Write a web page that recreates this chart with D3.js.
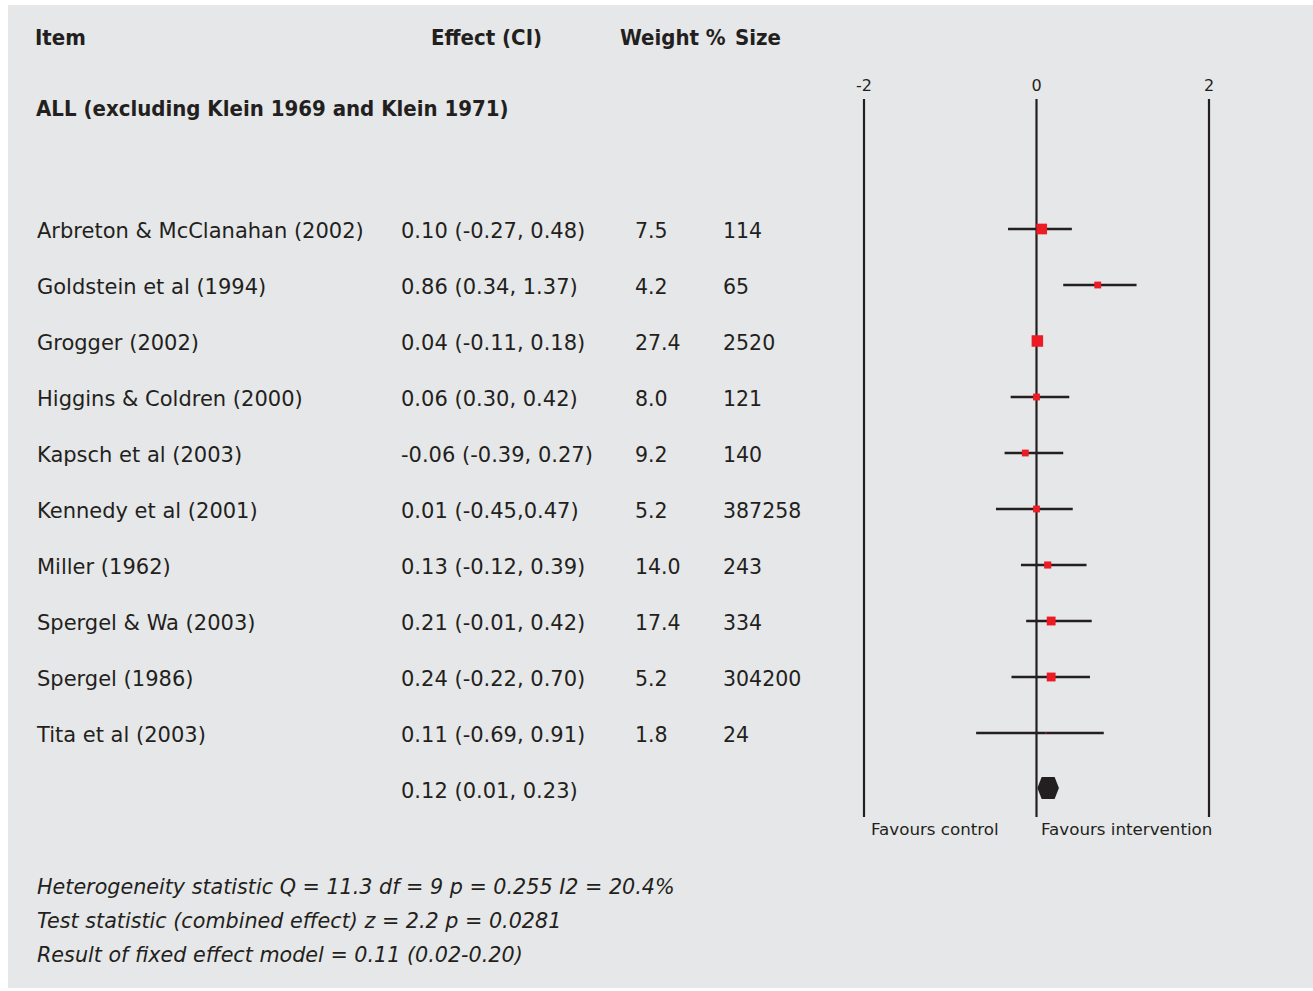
<!DOCTYPE html>
<html><head><meta charset="utf-8">
<script src="https://cdn.jsdelivr.net/npm/d3@7"></script>
<style>
html,body{margin:0;padding:0;background:#fff;}
svg{display:block;}
text{fill:#231f20;}
</style></head>
<body>
<script>
// ---- data ----
const headers = ["Item", "Effect (CI)", "Weight %", "Size"];
const groupTitle = "ALL (excluding Klein 1969 and Klein 1971)";
const studies = ["Arbreton & McClanahan (2002)", "Goldstein et al (1994)", "Grogger (2002)",
  "Higgins & Coldren (2000)", "Kapsch et al (2003)", "Kennedy et al (2001)", "Miller (1962)",
  "Spergel & Wa (2003)", "Spergel (1986)", "Tita et al (2003)"];
const effectText = ["0.10 (-0.27, 0.48)", "0.86 (0.34, 1.37)", "0.04 (-0.11, 0.18)", "0.06 (0.30, 0.42)",
  "-0.06 (-0.39, 0.27)", "0.01 (-0.45,0.47)", "0.13 (-0.12, 0.39)", "0.21 (-0.01, 0.42)",
  "0.24 (-0.22, 0.70)", "0.11 (-0.69, 0.91)"];
const weightText = ["7.5", "4.2", "27.4", "8.0", "9.2", "5.2", "14.0", "17.4", "5.2", "1.8"];
const sizeText = ["114", "65", "2520", "121", "140", "387258", "243", "334", "304200", "24"];
// plotted values as read from the graphic
const plotEst = [0.06, 0.71, 0.01, 0.00, -0.13, 0.00, 0.13, 0.17, 0.17, 0.11];
const plotLo  = [-0.33, 0.31, 0.00, -0.30, -0.37, -0.47, -0.18, -0.12, -0.29, -0.70];
const plotHi  = [0.41, 1.16, 0.02, 0.38, 0.31, 0.42, 0.58, 0.64, 0.62, 0.78];
const plotWeight = [23.7, 9.6, 27.4, 9.6, 9.6, 9.6, 10.5, 16.2, 16.2, 0.3];
const pooledText = "0.12 (0.01, 0.23)";
const pooledEst = 0.14, pooledLo = 0.01, pooledHi = 0.26;
const axisTicks = [-2, 0, 2];
const axisTickLabels = ["-2", "0", "2"];
const favourLabels = ["Favours control", "Favours intervention"];
const footer = ["Heterogeneity statistic Q = 11.3 df = 9 p = 0.255 I2 = 20.4%",
  "Test statistic (combined effect) z = 2.2 p = 0.0281",
  "Result of fixed effect model = 0.11 (0.02-0.20)"];

// ---- drawing ----
const W = 1313, H = 991;
const ink = "#231f20", red = "#ed1c24";
const FONT = "'DejaVu Sans', sans-serif";
const svg = d3.select("body").append("svg").attr("width", W).attr("height", H);
svg.append("rect").attr("x", 8).attr("y", 5).attr("width", W - 8).attr("height", 983).attr("fill", "#e6e7e8");

const x = d3.scaleLinear().domain([-2, 2]).range([864, 1209]);
const rows = studies.concat(["__pooled"]);
const y = d3.scaleBand().domain(rows).range([203, 203 + 56 * rows.length]);
const cy = d => y(d) + y.bandwidth() / 2;
const size = d3.scaleSqrt().domain([0, 27.4]).range([0, 11.5]);

// headers
const hdrX = [35, 431, 620, 735];
svg.append("g").selectAll("text").data(headers).join("text")
  .attr("x", (d, i) => hdrX[i]).attr("y", 37).attr("dy", "0.35em")
  .style("font-family", FONT).style("font-weight", "bold").style("font-size", "22px")
  .style("font-stretch", "condensed")
  .text(d => d);
svg.append("text").attr("x", 36).attr("y", 108).attr("dy", "0.35em")
  .style("font-family", FONT).style("font-weight", "bold").style("font-size", "22px")
  .style("font-stretch", "condensed").text(groupTitle);

// table columns
const colX = [37, 401, 635, 723];
const cols = [studies, effectText, weightText, sizeText];
cols.forEach((arr, ci) => {
  svg.append("g").selectAll("text").data(arr).join("text")
    .attr("x", colX[ci]).attr("y", (d, i) => cy(studies[i])).attr("dy", "0.35em")
    .style("font-family", FONT).style("font-size", ci >= 2 ? "20.5px" : "21px")
    .text(d => d);
});
svg.append("text").attr("x", colX[1]).attr("y", cy("__pooled")).attr("dy", "0.35em")
  .style("font-family", FONT).style("font-size", "21px").text(pooledText);

// axis
const axisG = svg.append("g");
axisG.selectAll("line").data(axisTicks).join("line")
  .attr("x1", d => x(d)).attr("x2", d => x(d)).attr("y1", 99).attr("y2", 817)
  .attr("stroke", ink).attr("stroke-width", 2.2);
axisG.selectAll("text").data(axisTicks).join("text")
  .attr("x", d => x(d)).attr("y", 85).attr("dy", "0.35em").attr("text-anchor", "middle")
  .style("font-family", FONT).style("font-size", "16px")
  .text((d, i) => axisTickLabels[i]);

// CI lines and squares
const marks = svg.append("g");
marks.selectAll("line").data(studies).join("line")
  .attr("x1", (d, i) => x(plotLo[i])).attr("x2", (d, i) => x(plotHi[i]))
  .attr("y1", d => cy(d) - 2).attr("y2", d => cy(d) - 2)
  .attr("stroke", ink).attr("stroke-width", 2.4);
marks.selectAll("rect").data(studies).join("rect")
  .attr("x", (d, i) => x(plotEst[i]) - size(plotWeight[i]) / 2)
  .attr("y", (d, i) => cy(d) - 2 - size(plotWeight[i]) / 2)
  .attr("width", (d, i) => size(plotWeight[i]))
  .attr("height", (d, i) => size(plotWeight[i]))
  .attr("fill", red);

// pooled hexagon
const py = cy("__pooled") - 3, ph = 11;
const l = x(pooledLo), r = x(pooledHi), s = (r - l) * 0.2;
svg.append("polygon")
  .attr("points", [[l, py], [l + s, py - ph], [r - s, py - ph], [r, py], [r - s, py + ph], [l + s, py + ph]].join(" "))
  .attr("fill", ink);

// favours labels
const favX = [871, 1041];
svg.append("g").selectAll("text").data(favourLabels).join("text")
  .attr("x", (d, i) => favX[i]).attr("y", 829).attr("dy", "0.35em")
  .style("font-family", FONT).style("font-size", "16.7px").text(d => d);

// footer
svg.append("g").selectAll("text").data(footer).join("text")
  .attr("x", 37).attr("y", (d, i) => 887 + 34 * i).attr("dy", "0.35em")
  .style("font-family", FONT).style("font-style", "italic").style("font-size", "20.7px")
  .text(d => d);
</script>
</body></html>
